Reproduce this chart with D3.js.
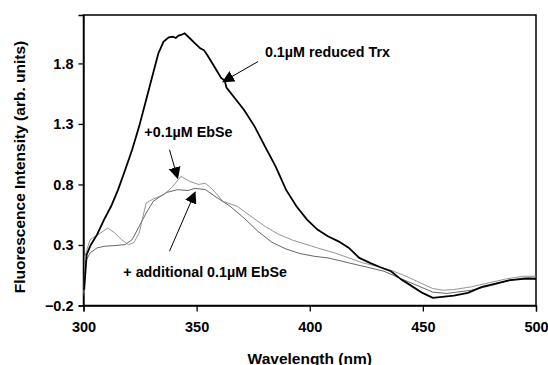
<!DOCTYPE html>
<html>
<head>
<meta charset="utf-8">
<title>Fluorescence Trx EbSe</title>
<script src="https://cdn.jsdelivr.net/npm/d3@7"></script>
<style>
  body { margin: 0; background: #fff; }
  text { font-family: "Liberation Sans", Arial, sans-serif; font-weight: bold; }
  .frame { fill: none; stroke: #000; stroke-width: 1.5; }
  .axis path, .axis line { stroke: #000; stroke-width: 1.3; }
  .axis text { font-size: 14.5px; fill: #000; }
</style>
</head>
<body>
<div id="graphe"></div>
<script>
// reduced Trx (thick curve)
var trxX = [300.3, 301.4, 303.2, 306, 309.1, 312.2, 315.3, 318.4, 321.5, 324.6, 327.7, 330.8, 333.1, 335.4, 337.7, 339.5, 340.8, 342, 343.1, 344.7, 347, 349.3, 351.6, 353.2, 354.7, 357.8, 360.9, 362.4, 363.2, 366.3, 370.9, 375.6, 380.2, 384.9, 389.5, 394.1, 398.8, 403.4, 408, 412.7, 417.3, 421.9, 426.6, 431.2, 435.9, 440.5, 445.1, 449.8, 454.4, 457.5, 463.7, 469.9, 476.1, 482.2, 488.4, 494.6, 500];
var trxY = [-0.07, 0.22, 0.30, 0.385, 0.51, 0.62, 0.757, 0.92, 1.087, 1.28, 1.50, 1.72, 1.884, 1.98, 2.016, 2.02, 2.01, 2.03, 2.035, 2.049, 2.008, 1.966, 1.925, 1.91, 1.87, 1.774, 1.678, 1.66, 1.60, 1.527, 1.417, 1.28, 1.114, 0.95, 0.757, 0.62, 0.509, 0.427, 0.372, 0.33, 0.276, 0.193, 0.152, 0.116, 0.083, 0.014, -0.04, -0.096, -0.137, -0.131, -0.118, -0.096, -0.046, -0.019, 0.009, 0.02, 0.02];

// +0.1 uM EbSe
var ebX = [300.2, 300.6, 302.9, 307.6, 310.7, 313.8, 316.8, 319.9, 322.3, 324.6, 327.7, 330.8, 335.4, 339.3, 343.1, 347, 350.9, 353.9, 357, 361.7, 367.9, 374, 380.2, 386.4, 392.6, 398.8, 404.9, 411.1, 417.3, 423.5, 429.7, 435.9, 442, 448.2, 454.4, 459, 463.7, 471.4, 479.1, 486.9, 494.6, 500];
var ebY = [-0.10, 0.207, 0.344, 0.40, 0.44, 0.40, 0.344, 0.303, 0.32, 0.40, 0.647, 0.68, 0.715, 0.78, 0.867, 0.825, 0.80, 0.81, 0.76, 0.66, 0.62, 0.537, 0.454, 0.386, 0.339, 0.303, 0.267, 0.234, 0.193, 0.152, 0.124, 0.091, 0.047, -0.007, -0.06, -0.074, -0.068, -0.046, -0.013, 0.02, 0.042, 0.042];

// + additional 0.1 uM EbSe
var addX = [300.2, 300.6, 302.9, 306, 309.1, 313.8, 318.4, 321.5, 324.6, 327.7, 330.8, 333.8, 336.9, 341.6, 346.2, 349.3, 353.9, 358.6, 364.8, 370.9, 377.1, 383.3, 389.5, 395.7, 401.9, 408, 414.2, 420.4, 426.6, 432.8, 440.5, 448.2, 454.4, 460.6, 471.4, 479.1, 486.9, 494.6, 500];
var addY = [-0.12, 0.152, 0.234, 0.276, 0.289, 0.295, 0.303, 0.344, 0.454, 0.564, 0.66, 0.70, 0.735, 0.757, 0.75, 0.768, 0.757, 0.696, 0.62, 0.523, 0.413, 0.322, 0.267, 0.229, 0.207, 0.193, 0.166, 0.138, 0.111, 0.083, 0.02, -0.04, -0.09, -0.10, -0.074, -0.04, 0.0, 0.028, 0.036];

var xTicks = [300, 350, 400, 450, 500];
var yTicks = [-0.2, 0.3, 0.8, 1.3, 1.8];

// annotations: text, label pos, arrow start, arrow end (data units)
var notes = [
  {text: "0.1\u00b5M reduced Trx", lx: 380.2, ly: 1.85, x1: 377.1, y1: 1.815, x2: 361.7, y2: 1.65},
  {text: "+0.1\u00b5M EbSe", lx: 326.9, ly: 1.19, x1: 338, y1: 1.087, x2: 341.6, y2: 0.853},
  {text: "+ additional 0.1\u00b5M EbSe", lx: 317.6, ly: 0.035, x1: 338, y1: 0.248, x2: 349.3, y2: 0.735}
];

var margin = {top: 15, right: 12, bottom: 59.5, left: 83.5},
    W = 548, H = 365,
    width = W - margin.left - margin.right,
    height = H - margin.top - margin.bottom;

var svg = d3.select("#graphe").append("svg")
    .attr("width", W).attr("height", H);

svg.append("defs").append("marker")
    .attr("id", "fleche")
    .attr("viewBox", "0 0 10 10")
    .attr("refX", 9).attr("refY", 5)
    .attr("markerWidth", 12).attr("markerHeight", 12)
    .attr("markerUnits", "userSpaceOnUse")
    .attr("orient", "auto")
  .append("path")
    .attr("d", "M0,0 L10,5 L0,10 z")
    .attr("fill", "#000");

var g = svg.append("g")
    .attr("transform", "translate(" + margin.left + "," + margin.top + ")");

var x = d3.scaleLinear().domain([300, 500]).range([0, width]);
var y = d3.scaleLinear().domain([-0.2, 2.2]).range([height, 0]);

g.append("g").attr("class", "axis")
    .attr("transform", "translate(0," + height + ")")
    .call(d3.axisBottom(x).tickValues(xTicks).tickSize(6).tickPadding(10).tickFormat(d3.format("d")));

g.append("g").attr("class", "axis")
    .call(d3.axisLeft(y).tickValues(yTicks).tickSize(5).tickPadding(5).tickFormat(d3.format(".1f")));

g.append("rect").attr("class", "frame")
    .attr("width", width).attr("height", height);

var line = d3.line()
    .x(function(d) { return x(d[0]); })
    .y(function(d) { return y(d[1]); });

function pts(xs, ys) {
  return xs.map(function(v, i) { return [v, ys[i]]; });
}

g.append("path").datum(pts(addX, addY))
    .attr("d", line).attr("fill", "none").attr("stroke", "#555").attr("stroke-width", 0.9);
g.append("path").datum(pts(ebX, ebY))
    .attr("d", line).attr("fill", "none").attr("stroke", "#888").attr("stroke-width", 0.9);
g.append("path").datum(pts(trxX, trxY))
    .attr("d", line).attr("fill", "none").attr("stroke", "#000").attr("stroke-width", 1.8);

notes.forEach(function(n) {
  g.append("text")
    .attr("x", x(n.lx)).attr("y", y(n.ly))
    .attr("font-size", "14.3px")
    .text(n.text);
  g.append("line")
    .attr("x1", x(n.x1)).attr("y1", y(n.y1))
    .attr("x2", x(n.x2)).attr("y2", y(n.y2))
    .attr("stroke", "#000").attr("stroke-width", 1)
    .attr("marker-end", "url(#fleche)");
});

svg.append("text")
    .attr("x", margin.left + width / 2)
    .attr("y", 364)
    .attr("text-anchor", "middle")
    .attr("font-size", "15.5px")
    .text("Wavelength (nm)");

svg.append("text")
    .attr("transform", "translate(24.5," + 167 + ") rotate(-90)")
    .attr("text-anchor", "middle")
    .attr("font-size", "15.5px")
    .text("Fluorescence Intensity (arb. units)");
</script>
</body>
</html>
